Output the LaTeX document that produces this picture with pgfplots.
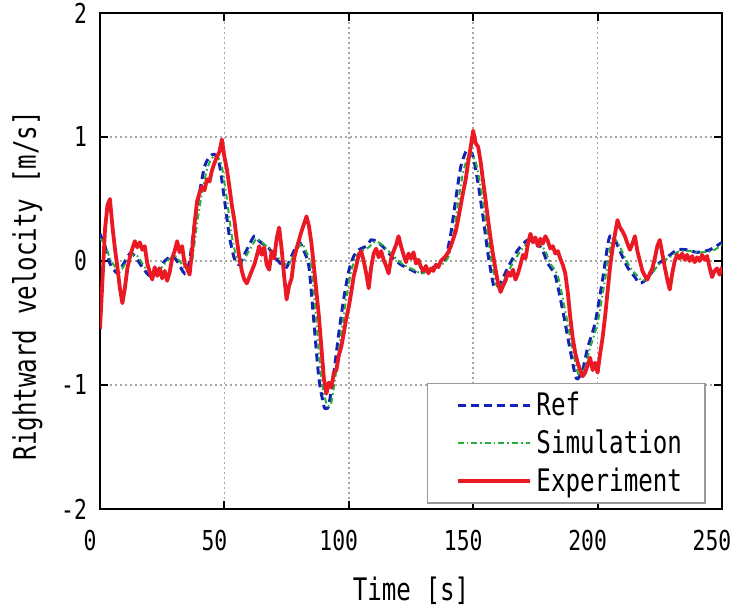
\documentclass[border=0pt]{standalone}
\usepackage{fontspec}
\usepackage{pgfplots}
\pgfplotsset{compat=1.18}
\setmainfont[FakeStretch=0.78]{DejaVu Sans Mono}
\newfontfamily\gothic[FakeStretch=0.78]{DejaVu Sans Mono}
\newcommand\tickfont{\gothic\fontsize{13.7}{16}\selectfont}
\newcommand\labfont{\gothic\fontsize{15.5}{18}\selectfont}
\newcommand\legfont{\gothic\fontsize{15.5}{18}\selectfont}
\definecolor{refblue}{RGB}{20,35,180}
\definecolor{simgreen}{RGB}{40,175,60}
\definecolor{expred}{RGB}{235,25,35}
\begin{document}
\begin{tikzpicture}
\begin{axis}[
  scale only axis,
  width=311pt, height=248pt,
  xmin=0, xmax=250, ymin=-2, ymax=2,
  xtick={0,50,100,150,200,250},
  ytick={-2,-1,0,1,2},
  /pgf/number format/assume math mode=true,
  tick label style={font=\tickfont},
  xticklabel style={yshift=-7pt, xshift=-5pt},
  yticklabel style={xshift=-3pt},
  tick align=inside,
  major tick length=4pt,
  tick style={black, line width=1pt},
  axis line style={line width=1.1pt},
  grid=major,
  grid style={gray!70, line width=0.8pt, dash pattern=on 0.9pt off 1.6pt},
  xlabel={Time [s]},
  ylabel={Rightward velocity [m/s]},
  label style={font=\labfont},
  xlabel style={yshift=-6pt},
  ylabel style={at={(axis description cs:-0.117,0.45)}, anchor=center},
  legend cell align=left,
  legend style={at={(rel axis cs:0.974,0.01)}, anchor=south east,
    draw=gray!80, line width=0.8pt, fill=white, font=\legfont,
    inner xsep=4pt, inner ysep=2pt, row sep=0.5pt,
    nodes={inner sep=2.5pt}},
  legend image code/.code={\path[draw=none,fill=none] (0pt,-1pt) rectangle (47pt,1pt); \draw[#1] (11pt,0pt) -- (47pt,0pt);},
]
\addplot[refblue, line width=1.5pt, dash pattern=on 4pt off 2.5pt, smooth, tension=0.4] coordinates {
(0,0.22)(2,0.12)(4,-0.02)(7,-0.1)(9,-0.04)(12,0.06)(14,0.04)(17,-0.05)(20,-0.12)(23,-0.08)
(26,0.0)(29,0.04)(31,0.0)(34,-0.1)(36,0.0)(38,0.3)(40,0.55)(42,0.76)(44,0.84)(46,0.86)
(48,0.78)(50,0.5)(52,0.2)(54,0.02)(56,-0.03)(58,0.05)(60,0.13)(62,0.2)(64,0.16)(66,0.13)
(68,0.1)(70,0.04)(73,-0.03)(75,-0.05)(77,0.04)(80,0.15)(82,0.08)(84,-0.05)(86,-0.5)(88,-0.95)
(90,-1.17)(91,-1.19)(92,-1.16)(94,-0.9)(96,-0.58)(98,-0.3)(100,-0.08)(102,0.04)(104,0.09)(107,0.12)
(109,0.17)(111,0.16)(113,0.13)(115,0.09)(118,0.02)(121,-0.03)(125,-0.07)(128,-0.1)(131,-0.08)(134,-0.05)
(137,-0.02)(139,0.03)(141,0.22)(143,0.5)(145,0.76)(147,0.88)(148,0.9)(150,0.84)(152,0.62)(154,0.35)
(156,0.05)(158,-0.18)(159,-0.22)(161,-0.18)(164,-0.05)(168,0.09)(172,0.17)(176,0.14)(178,0.08)(180,-0.02)
(183,-0.12)(186,-0.4)(189,-0.72)(191,-0.92)(192,-0.95)(194,-0.88)(196,-0.7)(199,-0.5)(202,-0.15)(204,0.12)
(205,0.2)(207,0.17)(209,0.08)(212,-0.05)(215,-0.13)(217,-0.18)(220,-0.14)(224,-0.03)(228,0.03)(232,0.09)
(236,0.09)(240,0.07)(245,0.09)(250,0.15)
};
\addlegendentry{Ref\hspace*{5pt}\null}
\addplot[simgreen, line width=1pt, dash pattern=on 3pt off 1.5pt on 0.8pt off 1.5pt, smooth, tension=0.4] coordinates {
(0,0.18)(2,0.14)(4,0.02)(7,-0.07)(9,-0.06)(12,0.04)(15,0.04)(18,-0.05)(21,-0.11)(24,-0.07)
(27,0.0)(30,0.04)(32,0.0)(35,-0.08)(37,0.0)(39,0.3)(41,0.55)(43,0.74)(45,0.83)(47,0.85)
(49,0.76)(51,0.5)(53,0.2)(55,0.02)(57,-0.02)(59,0.05)(61,0.12)(63,0.18)(65,0.15)(67,0.12)
(69,0.09)(71,0.04)(74,-0.02)(76,-0.03)(78,0.05)(81,0.14)(83,0.07)(85,-0.05)(87,-0.5)(89,-0.95)
(91,-1.15)(92,-1.17)(93,-1.14)(95,-0.88)(97,-0.57)(99,-0.3)(101,-0.08)(103,0.04)(105,0.08)(108,0.11)
(110,0.15)(112,0.15)(114,0.12)(116,0.08)(119,0.02)(122,-0.03)(126,-0.07)(129,-0.1)(132,-0.08)(135,-0.05)
(138,-0.02)(140,0.03)(142,0.2)(144,0.48)(146,0.72)(148,0.85)(149,0.87)(151,0.8)(153,0.6)(155,0.33)
(157,0.05)(159,-0.17)(160,-0.21)(162,-0.17)(165,-0.05)(169,0.08)(173,0.16)(177,0.13)(179,0.08)(181,-0.02)
(184,-0.12)(187,-0.4)(190,-0.72)(192,-0.9)(193,-0.93)(195,-0.86)(197,-0.7)(200,-0.5)(203,-0.15)(205,0.1)
(206,0.18)(208,0.15)(210,0.07)(213,-0.05)(216,-0.12)(218,-0.16)(221,-0.12)(225,-0.02)(229,0.03)(233,0.08)
(237,0.08)(241,0.07)(246,0.08)(250,0.13)
};
\addlegendentry{Simulation\hspace*{5pt}\null}
\addplot[expred, line width=1.9pt, line join=round] coordinates {
(0,-0.55)(1,-0.15)(2,0.25)(3,0.45)(4,0.50)(5,0.28)(6,0.10)(7,-0.05)(8,-0.22)(9,-0.34)
(10,-0.22)(11,-0.06)(12,0.03)(13,0.10)(14,0.16)(15,0.11)(16,0.15)(17,0.09)(18,0.12)(19,-0.02)
(20,-0.09)(21,-0.15)(22,-0.05)(23,-0.12)(24,-0.06)(25,-0.14)(26,-0.08)(27,-0.16)(28,-0.09)(29,0.02)
(30,0.08)(31,0.16)(32,0.07)(33,0.12)(34,-0.02)(35,-0.06)(36,-0.11)(37,0.08)(38,0.30)(39,0.48)
(40,0.55)(41,0.60)(42,0.57)(43,0.66)(44,0.64)(45,0.73)(46,0.79)(47,0.84)(48,0.88)(49,0.98)
(50,0.84)(51,0.74)(52,0.60)(53,0.45)(54,0.33)(55,0.17)(56,0.03)(57,-0.08)(58,-0.15)(59,-0.18)
(60,-0.13)(61,-0.08)(62,-0.03)(63,0.04)(64,0.12)(65,0.05)(66,0.11)(67,-0.03)(68,-0.07)(69,0.08)
(70,0.02)(71,0.18)(72,0.27)(73,0.10)(74,-0.12)(75,-0.31)(76,-0.20)(77,-0.14)(78,0.02)(79,0.10)
(80,0.17)(81,0.24)(82,0.30)(83,0.36)(84,0.28)(85,0.14)(86,-0.05)(87,-0.25)(88,-0.45)(89,-0.70)
(90,-0.95)(91,-1.07)(92,-0.98)(93,-1.02)(94,-0.90)(95,-0.88)(96,-0.76)(97,-0.69)(98,-0.58)(99,-0.46)
(100,-0.37)(101,-0.25)(102,-0.12)(103,-0.04)(104,0.05)(105,0.08)(106,0.00)(107,-0.10)(108,-0.22)(109,-0.05)
(110,0.06)(111,0.10)(112,0.03)(113,0.08)(114,0.01)(115,-0.04)(116,-0.10)(117,0.02)(118,0.08)(119,0.13)
(120,0.20)(121,0.12)(122,0.05)(123,-0.01)(124,0.06)(125,0.02)(126,0.07)(127,-0.02)(128,0.01)(129,-0.05)
(130,-0.08)(131,-0.04)(132,-0.10)(133,-0.06)(134,-0.08)(135,-0.03)(136,-0.05)(137,0.00)(138,0.02)(139,0.04)
(140,0.07)(141,0.12)(142,0.18)(143,0.24)(144,0.34)(145,0.45)(146,0.56)(147,0.66)(148,0.80)(149,0.92)
(150,1.05)(151,0.95)(152,0.92)(153,0.80)(154,0.64)(155,0.49)(156,0.33)(157,0.18)(158,0.05)(159,-0.07)
(160,-0.18)(161,-0.25)(162,-0.20)(163,-0.16)(164,-0.09)(165,-0.12)(166,-0.07)(167,-0.15)(168,-0.10)(169,-0.03)
(170,0.05)(171,0.02)(172,0.14)(173,0.22)(174,0.15)(175,0.19)(176,0.12)(177,0.18)(178,0.14)(179,0.20)
(180,0.16)(181,0.10)(182,0.12)(183,0.06)(184,0.08)(185,0.02)(186,-0.03)(187,-0.10)(188,-0.25)(189,-0.45)
(190,-0.62)(191,-0.74)(192,-0.82)(193,-0.88)(194,-0.93)(195,-0.90)(196,-0.84)(197,-0.78)(198,-0.88)(199,-0.82)
(200,-0.90)(201,-0.75)(202,-0.62)(203,-0.45)(204,-0.25)(205,-0.05)(206,0.10)(207,0.22)(208,0.33)(209,0.27)
(210,0.24)(211,0.20)(212,0.14)(213,0.09)(214,0.14)(215,0.20)(216,0.08)(217,0.00)(218,-0.08)(219,-0.12)
(220,-0.15)(221,-0.10)(222,-0.06)(223,0.02)(224,0.12)(225,0.17)(226,0.06)(227,-0.05)(228,-0.15)(229,-0.23)
(230,-0.10)(231,0.00)(232,0.05)(233,0.02)(234,0.06)(235,0.01)(236,0.05)(237,0.00)(238,0.04)(239,-0.01)
(240,0.03)(241,0.00)(242,0.05)(243,0.01)(244,0.04)(245,-0.05)(246,-0.13)(247,-0.08)(248,-0.06)(249,-0.11)
(250,-0.05)
};
\addlegendentry{Experiment\hspace*{5pt}\null}
\end{axis}
\pgfresetboundingbox
\useasboundingbox ([xshift=-50pt,yshift=-51pt]current axis.south west) rectangle ([xshift=5.5pt,yshift=6.5pt]current axis.north east);
\end{tikzpicture}
\end{document}
